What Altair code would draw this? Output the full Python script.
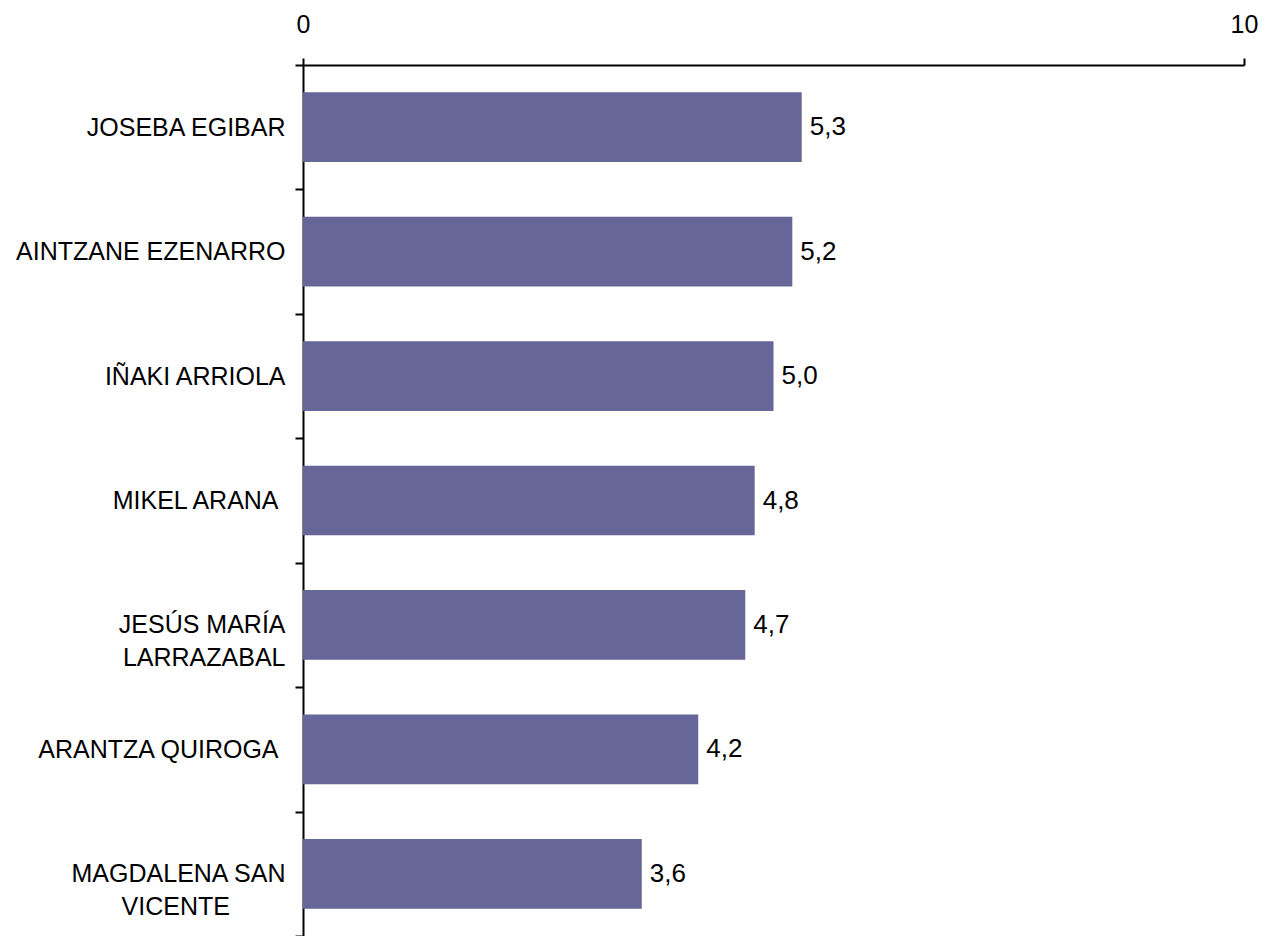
import altair as alt
import pandas as pd

NB = "\u00a0"
WJ = "\u2060"
names = [
    "JOSEBA EGIBAR",
    "AINTZANE EZENARRO",
    "IÑAKI ARRIOLA",
    "MIKEL ARANA" + NB + WJ,
    "JESÚS MARÍA|LARRAZABAL",
    "ARANTZA QUIROGA" + NB + WJ,
    "MAGDALENA SAN|VICENTE" + NB * 8 + WJ,
]
values = [5.3, 5.2, 5.0, 4.8, 4.7, 4.2, 3.6]
x_ticks = [0, 10]

df = pd.DataFrame({"name": names, "value": values})

FONT = "Liberation Sans"
COLOR = "#666699"
FS = 25

y_enc = alt.Y(
    "name:N",
    sort=names,
    title=None,
    scale=alt.Scale(paddingInner=0, paddingOuter=0),
    axis=alt.Axis(
        labelExpr="split(datum.label, '|')",
        labelFontSize=FS,
        labelFont=FONT,
        labelColor="black",
        labelLineHeight=33,
        labelPadding=10,
        labelLimit=500,
        tickSize=8,
        tickWidth=2,
        tickColor="black",
        tickBand="extent",
        domainColor="black",
        domainWidth=2,
        labelAlign="right",
        grid=False,
    ),
)

x_enc = alt.X(
    "value:Q",
    title=None,
    scale=alt.Scale(domain=[0, 10], nice=False, zero=True),
    axis=alt.Axis(
        orient="top",
        values=x_ticks,
        format="d",
        labelFontSize=FS,
        labelFont=FONT,
        labelColor="black",
        labelPadding=21,
        tickSize=7,
        tickWidth=2,
        tickColor="black",
        domainColor="black",
        domainWidth=2,
        grid=False,
        labelFlush=False,
    ),
)

bars = alt.Chart(df).mark_bar(color=COLOR, height=alt.RelativeBandSize(band=0.56)).encode(x=x_enc, y=y_enc)

texts = (
    alt.Chart(df)
    .transform_calculate(lab="replace(format(datum.value, '.1f'), '.', ',')")
    .mark_text(align="left", baseline="middle", dx=8, fontSize=26, font=FONT, color="black")
    .encode(x="value:Q", y=alt.Y("name:N", sort=names), text="lab:N")
)

chart = (
    (bars + texts)
    .properties(
        width=941,
        height=871,
        autosize=alt.AutoSizeParams(type="none"),
        padding={"left": 295, "top": 57, "right": 15, "bottom": 0},
    )
    .configure_view(stroke=None)
)

chart.save("out.html", embed_options={"renderer": "svg", "actions": False})
